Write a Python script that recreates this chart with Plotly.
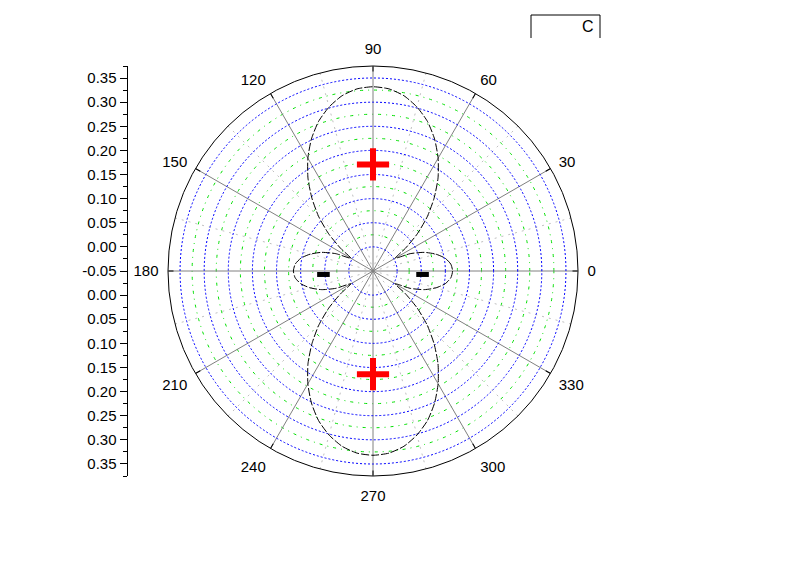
import plotly.graph_objects as go

# ---- data ----
theta_curve = list(range(0, 365, 5))
r_curve = [0.115, 0.112, 0.102, 0.085, 0.063, 0.035, 0.003, 0.032, 0.070, 0.109,
           0.147, 0.185, 0.220, 0.252, 0.280, 0.302, 0.319, 0.329, 0.332,
           0.329, 0.319, 0.302, 0.280, 0.252, 0.220, 0.185, 0.147, 0.109,
           0.070, 0.032, 0.003, 0.035, 0.063, 0.085, 0.102, 0.112, 0.115,
           0.112, 0.102, 0.085, 0.063, 0.035, 0.003, 0.032, 0.070, 0.109,
           0.147, 0.185, 0.220, 0.252, 0.280, 0.302, 0.319, 0.329, 0.332,
           0.329, 0.319, 0.302, 0.280, 0.252, 0.220, 0.185, 0.147, 0.109,
           0.070, 0.032, 0.003, 0.035, 0.063, 0.085, 0.102, 0.112, 0.115]

red_theta = [90, 270]
red_r = [0.171, 0.164]
black_theta = [356, 184]
black_r = [0.053, 0.053]

radial_range = [-0.05, 0.375]
radial_major = [0.00, 0.05, 0.10, 0.15, 0.20, 0.25, 0.30, 0.35]
radial_minor = [0.025, 0.075, 0.125, 0.175, 0.225, 0.275, 0.325]
angular_major = [0, 30, 60, 90, 120, 150, 180, 210, 240, 270, 300, 330]
angular_minor = [15, 45, 75, 105, 135, 165, 195, 225, 255, 285, 315, 345]
angular_labels = ["0", "30", "60", "90", "120", "150", "180", "210", "240", "270", "300", "330"]

left_tick_pos = [0.40, 0.35, 0.30, 0.25, 0.20, 0.15, 0.10, 0.05, 0.00,
                 -0.05, -0.10, -0.15, -0.20, -0.25, -0.30, -0.35, -0.40]
left_tick_text = ["0.35", "0.30", "0.25", "0.20", "0.15", "0.10", "0.05", "0.00", "-0.05",
                  "0.00", "0.05", "0.10", "0.15", "0.20", "0.25", "0.30", "0.35"]
left_range = [-0.425, 0.425]

legend_label = "C"

FONT = "Liberation Sans, Arial, sans-serif"
FS = 15
W, H = 800, 565
dom_x = [168 / W, 578 / W]
dom_y = [89 / H, 499 / H]

fig = go.Figure()

# invisible trace to show the left cartesian axis
fig.add_trace(go.Scatter(x=[0], y=[0], mode="markers", marker=dict(opacity=0),
                         hoverinfo="skip", showlegend=False, xaxis="x", yaxis="y"))

# invisible anchors so that the grid layers are drawn
for sp in ["polar", "polar2"]:
    fig.add_trace(go.Scatterpolar(r=[radial_range[0]], theta=[0], mode="markers",
                                  marker=dict(opacity=0), hoverinfo="skip",
                                  showlegend=False, subplot=sp))

fig.add_trace(go.Scatterpolar(
    r=r_curve, theta=theta_curve, mode="lines", subplot="polar3",
    line=dict(color="black", width=1, dash="8px,2px", shape="spline", smoothing=0.6),
    showlegend=False, name="C", hoverinfo="skip"))

fig.add_trace(go.Scatterpolar(
    r=black_r, theta=black_theta, mode="markers", subplot="polar3",
    marker=dict(symbol="line-ew", size=9, line=dict(color="black", width=5)),
    showlegend=False, hoverinfo="skip"))

fig.add_trace(go.Scatterpolar(
    r=red_r, theta=red_theta, mode="markers", subplot="polar3",
    marker=dict(symbol="cross-thin", size=23, line=dict(color="red", width=6)),
    showlegend=False, hoverinfo="skip"))

common_radial = dict(range=radial_range, showticklabels=False, ticks="", showline=False)

fig.update_layout(
    width=W, height=H, margin=dict(l=0, r=0, t=0, b=0),
    paper_bgcolor="white", plot_bgcolor="rgba(0,0,0,0)",
    font=dict(family=FONT, size=FS, color="black"),
    showlegend=False,
    # bottom layer: minor radial grid + angular labels
    polar=dict(
        domain=dict(x=dom_x, y=dom_y), bgcolor="white",
        radialaxis=dict(**common_radial, tickmode="array", tickvals=radial_minor,
                        showgrid=True, gridcolor="#00e000", griddash="3px,5px,1px,5px", gridwidth=1),
        angularaxis=dict(tickmode="array", tickvals=angular_major, ticktext=angular_labels,
                         tickfont=dict(family=FONT, size=FS, color="black"),
                         ticks="outside", ticklen=6, tickcolor="rgba(0,0,0,0)",
                         showline=False, showgrid=False),
    ),
    # middle layer: minor angular grid
    polar2=dict(
        domain=dict(x=dom_x, y=dom_y), bgcolor="rgba(0,0,0,0)",
        radialaxis=dict(**common_radial, showgrid=False),
        angularaxis=dict(tickmode="array", tickvals=angular_minor, showticklabels=False,
                         ticks="", showline=False, showgrid=True,
                         gridcolor="#c0c0c0", griddash="2px,5px", gridwidth=1),
    ),
    # top layer: major grids, outline, data
    polar3=dict(
        domain=dict(x=dom_x, y=dom_y), bgcolor="rgba(0,0,0,0)",
        radialaxis=dict(**common_radial, tickmode="array", tickvals=radial_major,
                        showgrid=True, gridcolor="#0000ff", griddash="2px,2px", gridwidth=1),
        angularaxis=dict(tickmode="array", tickvals=angular_major, showticklabels=False,
                         ticks="inside", ticklen=5, tickcolor="black",
                         showline=True, linecolor="black", linewidth=1,
                         showgrid=True, gridcolor="#808080", gridwidth=1),
    ),
    xaxis=dict(domain=[0.158, 0.17], visible=False, range=[-1, 1]),
    yaxis=dict(domain=dom_y, anchor="free", position=126.5 / W, range=left_range,
               tickmode="array", tickvals=left_tick_pos, ticktext=left_tick_text,
               ticks="outside", ticklen=7, tickcolor="black", tickwidth=1,
               showline=True, linecolor="black", linewidth=1, showgrid=False, zeroline=False,
               tickfont=dict(family=FONT, size=FS, color="black"),
               minor=dict(tick0=0.025, dtick=0.05, ticks="outside", ticklen=4,
                          tickcolor="black", showgrid=False)),
)

# legend-like box in top right
fig.add_shape(type="path", xref="paper", yref="paper",
              path=f"M {531/W},{1-38/H} L {531/W},{1-15/H} L {600/W},{1-15/H} L {600/W},{1-38/H}",
              line=dict(color="black", width=1))
fig.add_annotation(x=596 / W, y=1 - 27 / H, xref="paper", yref="paper", text=legend_label,
                   showarrow=False, xanchor="right", yanchor="middle",
                   font=dict(family=FONT, size=16, color="black"))

fig.write_html("out.html", config={"displayModeBar": False},
               post_script="document.body.style.margin='0';")
